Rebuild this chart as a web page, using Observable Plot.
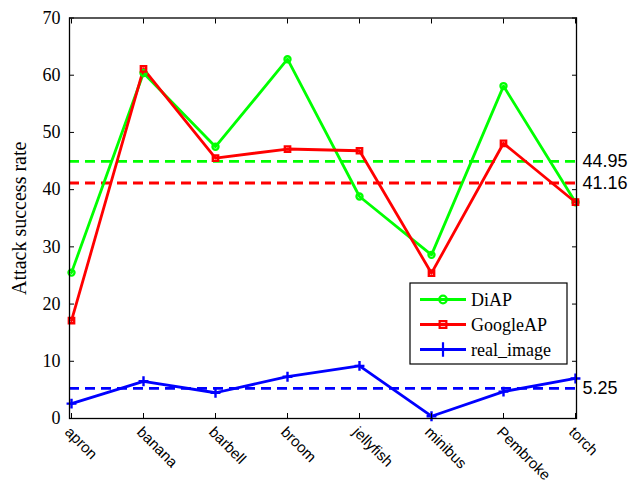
<!DOCTYPE html>
<html>
<head>
<meta charset="utf-8">
<script src="https://cdn.jsdelivr.net/npm/d3@7"></script>
<script src="https://cdn.jsdelivr.net/npm/@observablehq/plot@0.6"></script>
<style>
  html, body { margin: 0; padding: 0; background: #fff; }
  #chart { width: 628px; height: 482px; }
</style>
</head>
<body>
<div id="chart"></div>
<script>
const categories = ["apron", "banana", "barbell", "broom", "jellyfish", "minibus", "Pembroke", "torch"];
const seriesNames = ["DiAP", "GoogleAP", "real_image"];
const diapValues = [25.5, 60.4, 47.5, 62.8, 38.8, 28.6, 58.1, 37.8];
const googleValues = [17.1, 61.1, 45.5, 47.1, 46.8, 25.4, 48.1, 37.8];
const realValues = [2.6, 6.5, 4.5, 7.3, 9.2, 0.4, 4.7, 7.0];
const meanValues = [44.95, 41.16, 5.25];
const meanLabels = ["44.95", "41.16", "5.25"];
const yTicks = [0, 10, 20, 30, 40, 50, 60, 70];

const colors = {DiAP: "#00ff00", GoogleAP: "#ff0000", real_image: "#0000ff"};
const symbols = {DiAP: "circle", GoogleAP: "square", real_image: "plus"};

const valuesBySeries = [diapValues, googleValues, realValues];
const rows = seriesNames.flatMap((s, i) =>
  categories.map((c, j) => ({series: s, category: c, value: valuesBySeries[i][j]})));
const means = seriesNames.map((s, i) => ({series: s, value: meanValues[i], label: meanLabels[i]}));

const serif = "'Times New Roman', 'Liberation Serif', serif";
const sans = "Arial, 'Liberation Sans', sans-serif";

const plot = Plot.plot({
  width: 628,
  height: 482,
  marginLeft: 69,
  marginRight: 52,
  marginTop: 17.5,
  marginBottom: 64,
  style: {background: "#fff", overflow: "visible"},
  x: {type: "point", domain: categories, padding: 0},
  y: {domain: [0, 70]},
  marks: [
    Plot.ruleY(means, {y: "value", stroke: d => colors[d.series], strokeWidth: 2.8, strokeDasharray: "10,6"}),
    Plot.line(rows, {x: "category", y: "value", z: "series", stroke: d => colors[d.series], strokeWidth: 2.8}),
    Plot.dot(rows, {x: "category", y: "value", symbol: d => symbols[d.series], stroke: d => colors[d.series],
      r: d => d.series === "GoogleAP" ? 4.6 : (d.series === "real_image" ? 5.5 : 4.6), strokeWidth: 2.4, fill: "none"}),
    Plot.frame({stroke: "#000", strokeWidth: 1.3}),
    Plot.axisY({anchor: "left", ticks: yTicks, tickSize: -5, text: null, label: null}),
    Plot.axisY({anchor: "right", ticks: yTicks, tickSize: -5, text: null, label: null}),
    Plot.axisX({anchor: "top", tickSize: -5, text: null, label: null}),
    Plot.axisX({anchor: "bottom", tickSize: -5, text: null, label: null}),
    Plot.axisY({anchor: "left", ticks: yTicks, tickSize: 0, tickPadding: 9, fontSize: 18, fontFamily: serif, fill: "#000", label: null}),
    Plot.axisY({anchor: "left", ticks: [], tickSize: 0, fontSize: 20, fontFamily: serif, fill: "#000",
      label: "Attack success rate", labelAnchor: "center", labelArrow: "none", labelOffset: 58}),
    Plot.axisX({anchor: "bottom", tickSize: 0, tickPadding: 8, tickRotate: 45, dx: -4, dy: 3, fontSize: 15, fontFamily: sans, fill: "#000", label: null}),
    Plot.text(means, {y: "value", text: "label", frameAnchor: "right", dx: 6, textAnchor: "start", fontSize: 18, fontFamily: sans, fill: "#000"})
  ]
});

document.getElementById("chart").appendChild(plot);

// Legend box
const svg = d3.select(plot);
const lg = svg.append("g").attr("transform", "translate(410,283)");
lg.append("rect").attr("x", 0).attr("y", 0).attr("width", 157).attr("height", 81)
  .attr("fill", "#fff").attr("stroke", "#000").attr("stroke-width", 1.2);
seriesNames.forEach((s, i) => {
  const yy = 16.5 + i * 25;
  lg.append("line").attr("x1", 10).attr("x2", 56).attr("y1", yy).attr("y2", yy)
    .attr("stroke", colors[s]).attr("stroke-width", 2.8);
  const sym = d3.symbol().type(s === "DiAP" ? d3.symbolCircle : s === "GoogleAP" ? d3.symbolSquare : d3.symbolPlus)
    .size(s === "real_image" ? 70 : 45);
  lg.append("path").attr("d", sym()).attr("transform", `translate(33,${yy})`)
    .attr("fill", "none").attr("stroke", colors[s]).attr("stroke-width", 2.2);
  lg.append("text").attr("x", 61).attr("y", yy).attr("dy", "0.35em").attr("text-anchor", "start")
    .attr("font-family", serif).attr("font-size", 18).attr("fill", "#000").text(s);
});
</script>
</body>
</html>
